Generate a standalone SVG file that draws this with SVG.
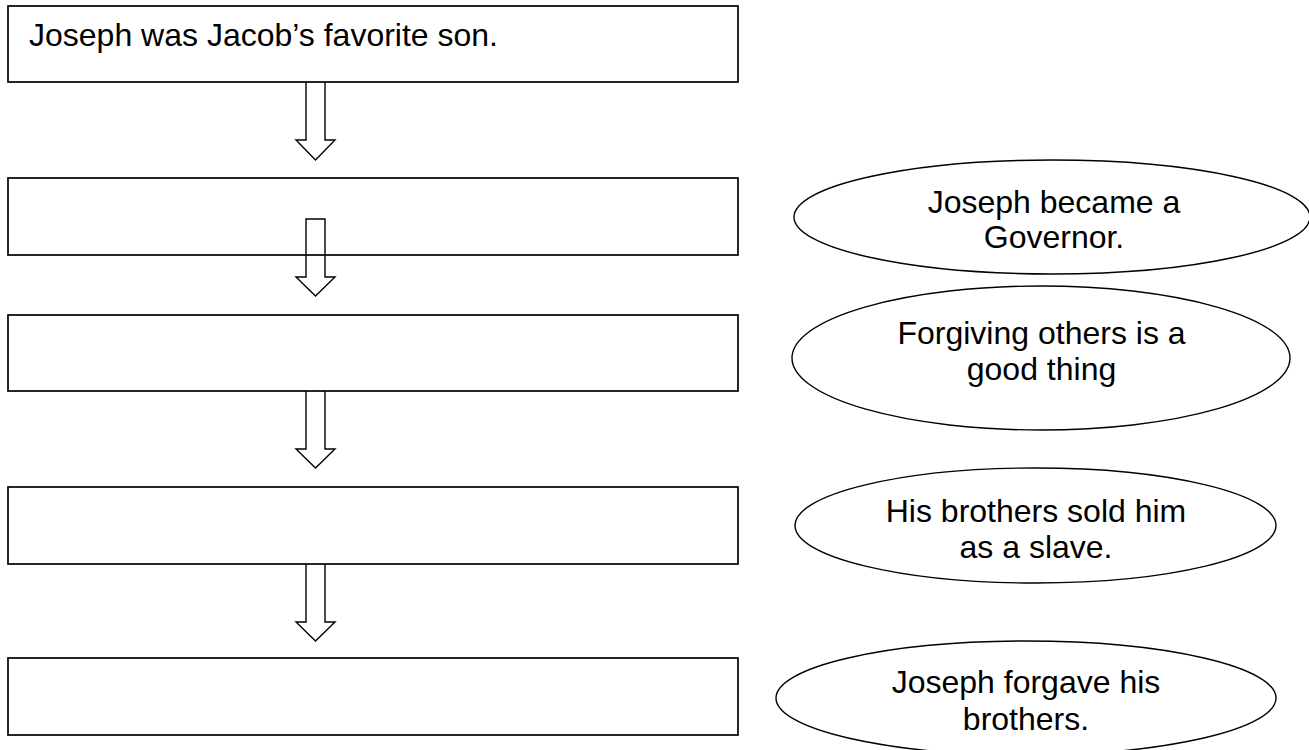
<svg xmlns="http://www.w3.org/2000/svg" width="1309" height="750" viewBox="0 0 1309 750">
<style>
.box{fill:#fff;stroke:#000;stroke-width:1.7}
.ell{fill:#fff;stroke:#000;stroke-width:1.4}
.arr{fill:none;stroke:#000;stroke-width:1.4;stroke-linejoin:miter}
text{font-family:"Liberation Sans",Arial,sans-serif;font-size:32px;fill:#000}
.c{text-anchor:middle}
</style>
<rect width="1309" height="750" fill="#fff"/>
<g id="box1"><rect class="box" x="8" y="6" width="730" height="76"/><text x="29" y="45.5">Joseph was Jacob’s favorite son.</text></g>
<g id="box2"><rect class="box" x="8" y="178" width="730" height="77"/></g>
<g id="box3"><rect class="box" x="8" y="315" width="730" height="76"/></g>
<g id="box4"><rect class="box" x="8" y="487" width="730" height="77"/></g>
<g id="box5"><rect class="box" x="8" y="658" width="730" height="77"/></g>
<g id="ellipse1"><ellipse class="ell" cx="1052" cy="217" rx="258" ry="57"/><text class="c" x="1054" y="213">Joseph became a</text><text class="c" x="1054" y="248">Governor.</text></g>
<g id="ellipse2"><ellipse class="ell" cx="1041" cy="358" rx="249" ry="72"/><text class="c" x="1041.5" y="344">Forgiving others is a</text><text class="c" x="1041.5" y="380">good thing</text></g>
<g id="ellipse3"><ellipse class="ell" cx="1035.5" cy="525.5" rx="240.5" ry="57.5"/><text class="c" x="1036" y="521.5">His brothers sold him</text><text class="c" x="1036" y="557.5">as a slave.</text></g>
<g id="ellipse4"><ellipse class="ell" cx="1026" cy="698" rx="250" ry="57"/><text class="c" x="1026" y="693">Joseph forgave his</text><text class="c" x="1026" y="730">brothers.</text></g>
<g id="connectors">
<path class="arr" d="M306,82 V140 H296 L315.5,160 L335,140 H325 V82"/>
<path class="arr" d="M306,219 H325 V277 H335 L315.5,296 L296,277 H306 Z"/>
<path class="arr" d="M306,391 V449 H296 L315.5,468 L335,449 H325 V391"/>
<path class="arr" d="M306,564 V622 H296 L315.5,641 L335,622 H325 V564"/>
</g>
</svg>
